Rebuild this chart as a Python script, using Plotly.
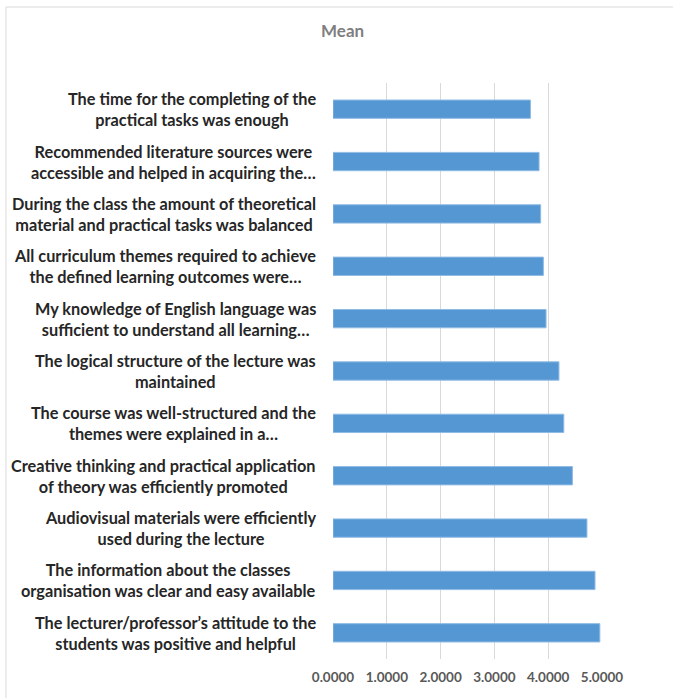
import plotly.graph_objects as go

categories = [
    "The time for the completing of the<br>practical tasks was enough",
    "Recommended literature sources were<br>accessible and helped in acquiring the…",
    "During the class the amount of theoretical<br>material and practical tasks was balanced",
    "All curriculum themes required to achieve<br>the defined learning outcomes were…",
    "My knowledge of English language was<br>sufficient to understand all learning…",
    "The logical structure of the lecture was<br>maintained",
    "The course was well-structured and the<br>themes were explained in a…",
    "Creative thinking and practical application<br>of theory was efficiently promoted",
    "Audiovisual materials were efficiently<br>used during the lecture",
    "The information about the classes<br>organisation was clear and easy available",
    "The lecturer/professor’s attitude to the<br>students was positive and helpful",
]
means = [3.67, 3.83, 3.86, 3.91, 3.96, 4.20, 4.29, 4.45, 4.72, 4.87, 4.96]
tick_vals = [0, 1, 2, 3, 4, 5]
tick_text = ["0.0000", "1.0000", "2.0000", "3.0000", "4.0000", "5.0000"]

W, H = 673, 698
L, R, T, B = 333, 71, 83, 39

fig = go.Figure(go.Bar(
    x=means, y=categories, orientation="h",
    marker=dict(color="#5597d3", line=dict(color="#8fbbe4", width=1)),
    width=0.35,
))

pw = W - L - R
annotations = []
for c in categories:
    annotations.append(dict(
        x=(318 - L) / pw, xref="paper", y=c, yref="y",
        text=c, showarrow=False, xanchor="right", yanchor="middle", align="center",
        font=dict(family="Lato", size=16.3, color="#262626", weight="bold"),
    ))
annotations.append(dict(
    x=(342 - L) / pw, xref="paper", y=(H - 30 - B) / (H - T - B), yref="paper",
    text="Mean", showarrow=False, xanchor="center", yanchor="middle",
    font=dict(family="Lato", size=17, color="#7f7f7f", weight="bold"),
))

fig.update_layout(
    width=W, height=H,
    margin=dict(l=L, r=R, t=T, b=B),
    paper_bgcolor="white", plot_bgcolor="white",
    showlegend=False,
    annotations=annotations,
    xaxis=dict(range=[0, 5], tickvals=tick_vals, ticktext=tick_text,
               showgrid=True, gridcolor="#d9d9d9", gridwidth=1,
               zeroline=False, showline=False, ticklabelstandoff=8,
               tickfont=dict(family="Lato", size=13.5, color="#595959", weight="bold")),
    yaxis=dict(autorange="reversed", showticklabels=False, showgrid=False,
               zeroline=False, showline=False),
    shapes=[dict(type="rect", xref="paper", yref="paper",
                 x0=(6 - L) / pw, x1=(690 - L) / pw,
                 y0=(H - 700 - B) / (H - T - B), y1=(H - 7 - B) / (H - T - B),
                 line=dict(color="#d9d9d9", width=1), layer="below")],
)
fig.write_html("out.html")
